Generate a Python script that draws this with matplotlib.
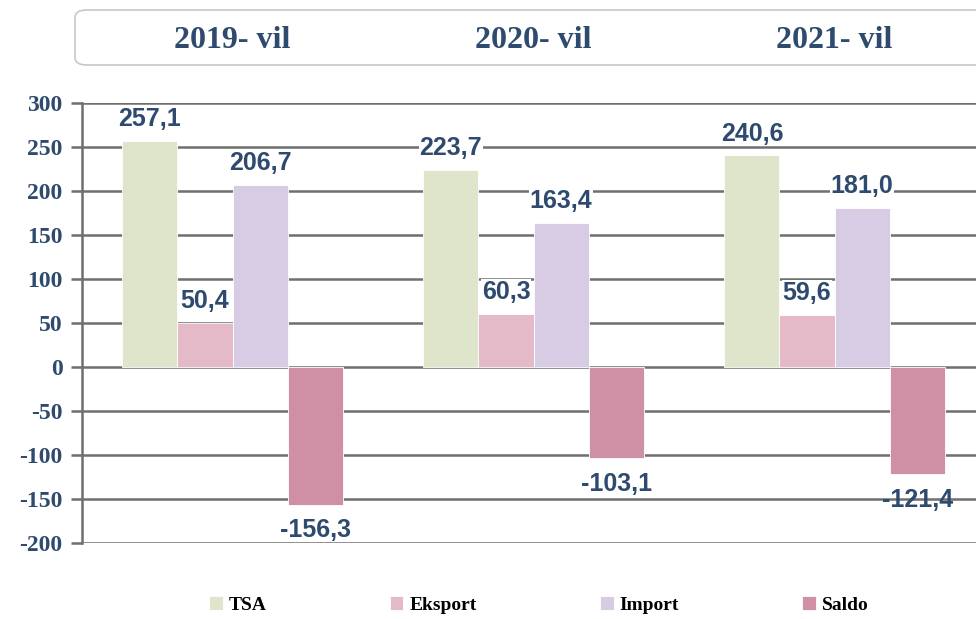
import matplotlib
matplotlib.use("Agg")
import matplotlib.pyplot as plt
from matplotlib.patches import FancyBboxPatch
from matplotlib.font_manager import FontProperties
import numpy as np

years = ["2019- vil", "2020- vil", "2021- vil"]
series = ["TSA", "Eksport", "Import", "Saldo"]
tsa = [257.1, 223.7, 240.6]
eksport = [50.4, 60.3, 59.6]
importv = [206.7, 163.4, 181.0]
saldo = [-156.3, -103.1, -121.4]
yticks = [300, 250, 200, 150, 100, 50, 0, -50, -100, -150, -200]

colors = ["#DFE5CA", "#E4BAC8", "#D7CCE4", "#CF8FA4"]
txt = "#2E4A6E"
grid = "#6f6f6f"

W, H = 976, 619
fig = plt.figure(figsize=(W / 100, H / 100), dpi=100)
ax = fig.add_axes([82 / W, 1 - 543 / H, 1 - 82 / W, (543 - 103) / H])

serif_b = lambda s: FontProperties(family="Liberation Serif", weight="bold", size=s)
sans_b = FontProperties(family="Liberation Sans", weight="bold", size=18)

x = np.arange(len(years))
bw = 0.183
vals = [tsa, eksport, importv, saldo]
for i, (name, v) in enumerate(zip(series, vals)):
    pos = x + (i - 1.5) * bw
    ax.bar(pos, v, width=bw, color=colors[i], label=name, zorder=3,
           edgecolor="white", linewidth=0.6)
    for px_, val in zip(pos, v):
        s = f"{val:.1f}".replace(".", ",")
        if val >= 0:
            ax.annotate(s, (px_, val), xytext=(0, 7), textcoords="offset points",
                        ha="center", va="bottom", fontproperties=sans_b,
                        color=txt, zorder=4,
                        bbox=dict(facecolor="white", edgecolor="none", pad=0.5))
        else:
            ax.annotate(s, (px_, val), xytext=(0, -10), textcoords="offset points",
                        ha="center", va="top", fontproperties=sans_b,
                        color=txt, zorder=4)

ax.set_ylim(-200, 300)
ax.set_xlim(-0.5, 2.47)
ax.set_yticks(yticks)
ax.set_yticklabels([str(t) for t in yticks])
for lab in ax.get_yticklabels():
    lab.set_fontproperties(serif_b(17))
    lab.set_color(txt)
ax.set_xticks([])
ax.yaxis.grid(True, color=grid, linewidth=1.8, zorder=0)
ax.set_axisbelow(True)
for sp in ["top", "right", "bottom"]:
    ax.spines[sp].set_visible(False)
ax.spines["left"].set_color(grid)
ax.spines["left"].set_linewidth(1.8)
ax.tick_params(axis="y", length=8, width=1.8, color=grid, pad=6)

# header box
box = FancyBboxPatch((75 / W, 1 - 65 / H), 915 / W, 55 / H,
                     boxstyle="round,pad=0,rounding_size=0.012",
                     transform=fig.transFigure, facecolor="white",
                     edgecolor="#C8C8C8", linewidth=1.2, clip_on=False)
fig.patches.append(box)
for xi, yr in zip(x, years):
    xf = ax.transData.transform((xi, 0))[0]
    fig.text(xf / W, 1 - 41 / H, yr, ha="center", va="center",
             fontproperties=serif_b(23), color=txt)

leg = fig.legend(loc="center", bbox_to_anchor=(0.552, 1 - 605 / H), ncol=4,
                 frameon=False, handlelength=0.7, handleheight=0.7,
                 columnspacing=6.35, handletextpad=0.3,
                 prop=serif_b(14))

fig.savefig("out.png", dpi=100)
